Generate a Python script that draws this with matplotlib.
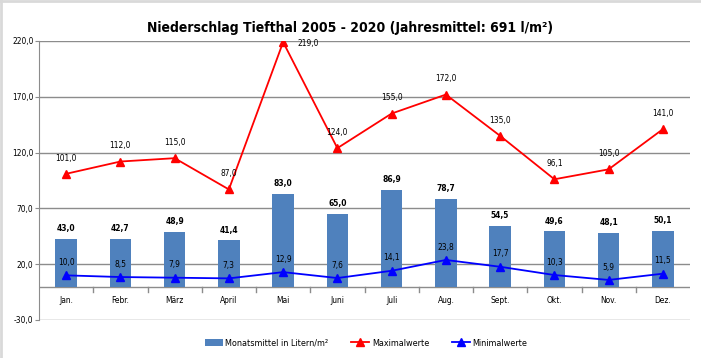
import matplotlib.pyplot as plt
import numpy as np

plt.rcParams['font.family'] = ['DejaVu Sans']
plt.rcParams['font.stretch'] = 'condensed'

# Daten (Niederschlag Tiefthal 2005 - 2020)
monate = ['Jan.', 'Febr.', 'März', 'April', 'Mai', 'Juni', 'Juli', 'Aug.',
          'Sept.', 'Okt.', 'Nov.', 'Dez.']
mittel = [43.0, 42.7, 48.9, 41.4, 83.0, 65.0, 86.9, 78.7, 54.5, 49.6, 48.1, 50.1]
maxima = [101.0, 112.0, 115.0, 87.0, 219.0, 124.0, 155.0, 172.0, 135.0, 96.1, 105.0, 141.0]
minima = [10.0, 8.5, 7.9, 7.3, 12.9, 7.6, 14.1, 23.8, 17.7, 10.3, 5.9, 11.5]
y_ticks = [-30, 20, 70, 120, 170, 220]

def fmt(v):
    return '{:.1f}'.format(v).replace('.', ',')

x = np.arange(len(monate))

fig = plt.figure(figsize=(7.01, 3.58), dpi=100)
ax = fig.add_axes([39/701, 38/358, 651/701, 279/358])

# Gitterlinien
for yt in y_ticks:
    ax.axhline(yt, color='#8c8c8c', lw=1.0, zorder=0)

bars = ax.bar(x, mittel, width=0.4, color='#4f81bd', zorder=2,
              label='Monatsmittel in Litern/m²')
l_max, = ax.plot(x, maxima, color='#ff0000', lw=1.3, marker='^', ms=6, zorder=3,
                 label='Maximalwerte')
l_min, = ax.plot(x, minima, color='#0000ff', lw=1.3, marker='^', ms=6, zorder=3,
                 label='Minimalwerte')

for i in range(len(x)):
    ax.annotate(fmt(mittel[i]), (x[i], mittel[i]), xytext=(0, 4),
                textcoords='offset points', ha='center', va='bottom',
                fontsize=6, fontweight='bold', zorder=4)
    off = (0, 8) if maxima[i] < 200 else (18, -4)
    ax.annotate(fmt(maxima[i]), (x[i], maxima[i]), xytext=off,
                textcoords='offset points', ha='center', va='bottom',
                fontsize=6, zorder=4)
    ax.annotate(fmt(minima[i]), (x[i], minima[i]), xytext=(0, 6),
                textcoords='offset points', ha='center', va='bottom',
                fontsize=6, zorder=4)

# Nulllinie als x-Achse
ax.axhline(0, color='#8c8c8c', lw=1.0, zorder=1)
for b in np.arange(-0.5, len(x), 1.0)[1:-1]:
    ax.plot([b, b], [0, -4.5], color='#8c8c8c', lw=1.0, zorder=1, clip_on=False)
for i, m in enumerate(monate):
    ax.text(x[i], -12.5, m, ha='center', va='center', fontsize=6)

ax.set_xlim(-0.5, len(x) - 0.5)
ax.set_ylim(-30, 220)
ax.set_yticks(y_ticks)
ax.set_yticklabels([fmt(v) for v in y_ticks], fontsize=6)
ax.tick_params(axis='y', length=3, color='#8c8c8c', pad=1)
ax.set_xticks([])
for s in ['top', 'right', 'bottom']:
    ax.spines[s].set_visible(False)
ax.spines['left'].set_color('#8c8c8c')

fig.text(0.5, 1 - 28/358, 'Niederschlag Tiefthal 2005 - 2020 (Jahresmittel: 691 l/m²)',
         ha='center', va='center', fontsize=10, fontweight='bold', zorder=5)

fig.legend(handles=[bars, l_max, l_min], loc='center',
           bbox_to_anchor=(0.522, 1 - 343/358), ncol=3, frameon=False,
           fontsize=6.5, handlelength=2.0, handletextpad=0.3, columnspacing=2.5)

# grauer Rahmen oben und links
fig.add_artist(plt.Line2D([0, 1], [0.997, 0.997], color='#d9d9d9', lw=2, transform=fig.transFigure))
fig.add_artist(plt.Line2D([0.002, 0.002], [0, 1], color='#d9d9d9', lw=2, transform=fig.transFigure))

fig.savefig('out.png', dpi=100)
